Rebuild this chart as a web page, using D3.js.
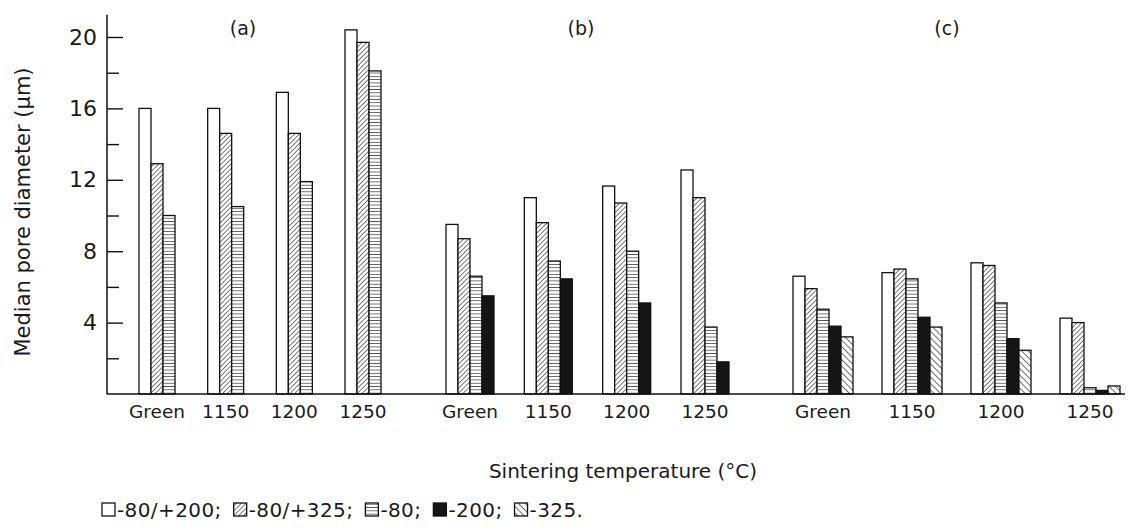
<!DOCTYPE html>
<html>
<head>
<meta charset="utf-8">
<script src="https://cdn.jsdelivr.net/npm/d3@7/dist/d3.min.js"></script>
<style>
  html, body { margin: 0; padding: 0; background: #fff; }
  svg { display: block; }
  text { font-family: "DejaVu Sans", sans-serif; fill: #1a1a1a; }
</style>
</head>
<body>
<svg id="chart" width="1140" height="530"></svg>
<script>
// ---------------- data ----------------
const panels = ["(a)", "(b)", "(c)"];
const categories = ["Green", "1150", "1200", "1250"];
const seriesNames = ["-80/+200", "-80/+325", "-80", "-200", "-325"];
const yTicksMajor = [4, 8, 12, 16, 20];
const yTicksMinor = [2, 6, 10, 14, 18];
const xTitle = "Sintering temperature (°C)";
const yTitle = "Median pore diameter (μm)";

// panel (a)
const a_80_200 = [16.0, 16.0, 16.9, 20.4];
const a_80_325 = [12.9, 14.6, 14.6, 19.7];
const a_80     = [10.0, 10.5, 11.9, 18.1];
// panel (b)
const b_80_200 = [9.5, 11.0, 11.65, 12.55];
const b_80_325 = [8.7, 9.6, 10.7, 11.0];
const b_80     = [6.6, 7.45, 8.0, 3.75];
const b_200    = [5.5, 6.45, 5.1, 1.8];
// panel (c)
const c_80_200 = [6.6, 6.8, 7.35, 4.25];
const c_80_325 = [5.9, 7.0, 7.2, 4.0];
const c_80     = [4.75, 6.45, 5.1, 0.35];
const c_200    = [3.8, 4.3, 3.1, 0.2];
const c_325    = [3.2, 3.75, 2.45, 0.45];

// ---------------- build ----------------
const panelSeries = [
  [a_80_200, a_80_325, a_80],
  [b_80_200, b_80_325, b_80, b_200],
  [c_80_200, c_80_325, c_80, c_200, c_325]
];

const svg = d3.select("#chart");
const y = d3.scaleLinear().domain([0, 20]).range([394, 37]);
const axisX = 107;

const defs = svg.append("defs");
function linePattern(id, spacing, angle, sw) {
  const p = defs.append("pattern")
    .attr("id", id).attr("patternUnits", "userSpaceOnUse")
    .attr("width", spacing).attr("height", spacing)
    .attr("patternTransform", `rotate(${angle})`);
  p.append("rect").attr("width", spacing).attr("height", spacing).attr("fill", "#fff");
  p.append("line").attr("x1", 0).attr("y1", -1).attr("x2", 0).attr("y2", spacing + 1)
    .attr("stroke", "#111").attr("stroke-width", sw);
}
linePattern("pFwd", 3.4, 45, 1.1);   // ////
linePattern("pHor", 3.3, 90, 1.2);   // ====
linePattern("pBack", 4.6, -45, 1.2); // \\\\
const fills = ["#fff", "url(#pFwd)", "url(#pHor)", "#151515", "url(#pBack)"];
const barW = 12;

// panel cluster positions
const panelRanges = [[139, 345], [446, 681], [793, 1060]];
const panelTitleX = [243, 581, 947];

panelSeries.forEach((seriesArr, pi) => {
  const xc = d3.scalePoint().domain(categories).range(panelRanges[pi]);
  const names = seriesNames.slice(0, seriesArr.length);
  const xs = d3.scaleBand().domain(names).range([0, barW * names.length]).padding(0);
  const g = svg.append("g");
  const data = [];
  seriesArr.forEach((vals, si) => {
    vals.forEach((v, ci) => data.push({ cat: categories[ci], s: names[si], si, v }));
  });
  g.selectAll("rect").data(data).join("rect")
    .attr("x", d => xc(d.cat) + xs(d.s))
    .attr("y", d => y(d.v))
    .attr("width", xs.bandwidth())
    .attr("height", d => y(0) - y(d.v))
    .attr("fill", d => fills[d.si])
    .attr("stroke", "#111").attr("stroke-width", 1.3);

  g.selectAll("text.cat").data(categories).join("text")
    .attr("class", "cat")
    .attr("x", d => xc(d) + barW * names.length / 2)
    .attr("y", 418)
    .attr("text-anchor", "middle")
    .attr("font-size", 18.5)
    .text(d => d);

  svg.append("text")
    .attr("x", panelTitleX[pi]).attr("y", 35)
    .attr("text-anchor", "middle").attr("font-size", 19)
    .text(panels[pi]);
});

// axes
const yAxisMajor = d3.axisLeft(y).tickValues(yTicksMajor).tickSize(-16).tickPadding(10).tickFormat(d3.format("d"));
const yAxisMinor = d3.axisLeft(y).tickValues(yTicksMinor).tickSize(-12).tickFormat("");
const ga = svg.append("g").attr("transform", `translate(${axisX},0)`).call(yAxisMajor);
const gm = svg.append("g").attr("transform", `translate(${axisX},0)`).call(yAxisMinor);
[ga, gm].forEach(g => {
  g.select(".domain").remove();
  g.selectAll(".tick line").attr("stroke", "#111").attr("stroke-width", 1.4);
});
ga.selectAll(".tick text").attr("font-size", 22).attr("font-family", "DejaVu Sans").attr("fill", "#1a1a1a");

svg.append("line").attr("x1", axisX).attr("x2", axisX).attr("y1", y(21.25)).attr("y2", y(0))
  .attr("stroke", "#111").attr("stroke-width", 1.5);
svg.append("line").attr("x1", axisX).attr("x2", 1125).attr("y1", y(0)).attr("y2", y(0))
  .attr("stroke", "#111").attr("stroke-width", 1.5);

// titles
svg.append("text").attr("x", 623).attr("y", 478).attr("text-anchor", "middle")
  .attr("font-size", 20).text(xTitle);
svg.append("text").attr("transform", "translate(30,212) rotate(-90)")
  .attr("text-anchor", "middle").attr("font-size", 21).text(yTitle);

// legend
const leg = svg.append("g").attr("transform", "translate(102,517)");
let lx = 0;
seriesNames.forEach((name, i) => {
  leg.append("rect").attr("x", lx).attr("y", -14).attr("width", 13).attr("height", 13)
    .attr("fill", fills[i]).attr("stroke", "#111").attr("stroke-width", 1.3);
  lx += 15;
  const t = leg.append("text").attr("x", lx).attr("y", 0).attr("font-size", 20)
    .attr("letter-spacing", 0.4)
    .text(name + (i < seriesNames.length - 1 ? ";" : "."));
  lx += t.node().getComputedTextLength() + 12;
});
</script>
</body>
</html>
